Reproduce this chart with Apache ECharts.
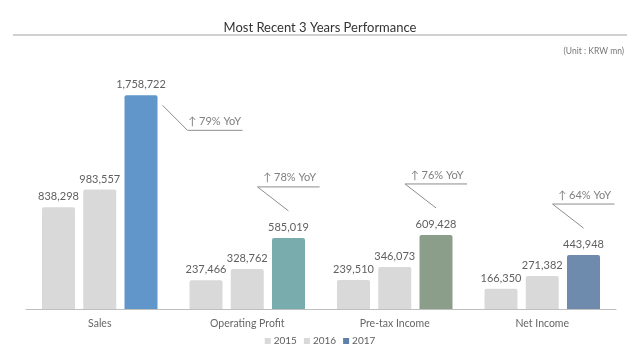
<!DOCTYPE html>
<html>
<head>
<meta charset="utf-8">
<script src="https://cdn.jsdelivr.net/npm/echarts@6/dist/echarts.min.js"></script>
<style>html,body{margin:0;padding:0;background:#fff;}#c{width:640px;height:354px;}</style>
</head>
<body>
<div id="c"></div>
<script>
const categories = ['Sales', 'Operating Profit', 'Pre-tax Income', 'Net Income'];
const years = ['2015', '2016', '2017'];
const v2015 = [838298, 237466, 239510, 166350];
const v2016 = [983557, 328762, 346073, 271382];
const v2017 = [1758722, 585019, 609428, 443948];
const yoy = ['↑ 79% YoY', '↑ 78% YoY', '↑ 76% YoY', '↑ 64% YoY'];
const colors2017 = ['#6096c9', '#79adad', '#8a9e8a', '#6e8aac'];

const FONT = 'Lato, "Open Sans", sans-serif';
const chart = echarts.init(document.getElementById('c'));
const fmt = p => p.value.toLocaleString('en-US');
const lbl = {show: true, position: 'top', distance: 5, color: '#606060', fontSize: 11, fontFamily: FONT, formatter: fmt};

chart.setOption({
  animation: false,
  title: {text: 'Most Recent 3 Years Performance', left: 'center', top: 16,
    textStyle: {fontSize: 13, fontWeight: 'normal', color: '#333', fontFamily: FONT}},
  grid: {left: 26, right: 24, top: 66, bottom: 45},
  legend: {bottom: 3, left: 'center', itemWidth: 6, itemHeight: 6, itemGap: 7, icon: 'rect',
    textStyle: {fontSize: 10, color: '#606060', fontFamily: FONT, padding: [0, 0, 0, -2]}},
  xAxis: {type: 'category', data: categories,
    axisLine: {lineStyle: {color: '#bfbfbf'}}, axisTick: {show: false},
    axisLabel: {color: '#666', fontSize: 10.5, fontFamily: FONT, margin: 9}},
  yAxis: {type: 'value', min: 0, max: 2000000, show: false, splitLine: {show: false}},
  series: [
    {name: years[0], type: 'bar', data: v2015, barWidth: 33, barGap: '25%',
      itemStyle: {color: '#d9d9d9', borderRadius: [2, 2, 0, 0]}, label: lbl},
    {name: years[1], type: 'bar', data: v2016, barWidth: 33, barGap: '25%',
      itemStyle: {color: '#d9d9d9', borderRadius: [2, 2, 0, 0]}, label: lbl},
    {name: years[2], type: 'bar', barWidth: 33, barGap: '25%',
      data: v2017.map((v, i) => ({value: v, itemStyle: {color: colors2017[i]}})),
      itemStyle: {color: '#5f80a8', borderRadius: [2, 2, 0, 0]}, label: lbl}
  ]
});

// decorations and callouts positioned from the library's own bar layout
const data = chart.getModel().getSeriesByIndex(2).getData();
const W = chart.getWidth();
const g = [
  {type: 'line', shape: {x1: 13, y1: 35, x2: W - 13, y2: 35}, style: {stroke: '#d0d0d0', lineWidth: 2}},
  {type: 'text', right: 16, top: 47, style: {text: '(Unit : KRW mn)', fill: '#777', fontSize: 8.5, fontFamily: FONT}}
];
const lineStyle = {stroke: '#8c8c8c', lineWidth: 1};
const txtStyle = (x, y, t) => ({type: 'text', x: x, y: y,
  style: {text: t, fill: '#7f7f7f', fontSize: 11, fontFamily: FONT, align: 'center', verticalAlign: 'middle'}});
for (let i = 0; i < categories.length; i++) {
  const L = data.getItemLayout(i);
  const cx = L.x + L.width / 2;
  const topY = Math.min(L.y, L.y + L.height);
  if (i === 0) {
    const x0 = L.x + L.width + 5, y0 = topY + 10;
    const x1 = x0 + 25, y1 = y0 + 25;
    g.push({type: 'polyline', shape: {points: [[x0, y0], [x1, y1], [x1 + 55, y1]]}, style: lineStyle});
    g.push(txtStyle(x1 + 27, y1 - 9, yoy[i]));
  } else {
    const xs = cx - 31, ys = topY - 51;
    g.push({type: 'polyline', shape: {points: [[cx, topY - 27], [xs, ys], [cx + 31, ys]]}, style: lineStyle});
    g.push(txtStyle(cx + 1, ys - 9, yoy[i]));
  }
}
chart.setOption({graphic: g});
</script>
</body>
</html>
